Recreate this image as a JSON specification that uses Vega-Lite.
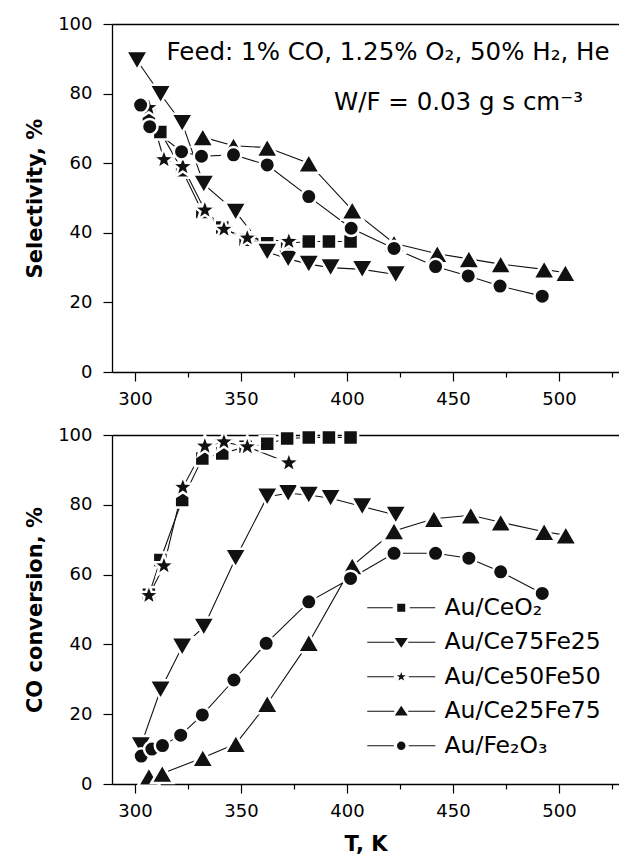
{
  "$schema": "https://vega.github.io/schema/vega-lite/v6.json",
  "padding": {"left": 24, "top": 15, "right": 0, "bottom": 0},
  "background": "white",
  "config": {
    "font": "DejaVu Sans",
    "view": {"stroke": null},
    "axis": {
      "grid": false,
      "labelFlush": false,
      "labelOverlap": false,
      "domainColor": "#000",
      "domainWidth": 1.3,
      "tickColor": "#000",
      "tickWidth": 1.2,
      "labelColor": "#000",
      "labelFont": "DejaVu Sans",
      "labelFontSize": 18,
      "titleFont": "DejaVu Sans",
      "titleFontSize": 21,
      "titleFontWeight": "bold",
      "titleColor": "#000"
    }
  },
  "datasets": {
    "sel": [
      {"catalyst": "Au/CeO₂", "T": 306.6, "value": 74},
      {"catalyst": "Au/CeO₂", "T": 312, "value": 69},
      {"catalyst": "Au/CeO₂", "T": 322.3, "value": 58},
      {"catalyst": "Au/CeO₂", "T": 331.8, "value": 46},
      {"catalyst": "Au/CeO₂", "T": 341.2, "value": 41.5},
      {"catalyst": "Au/CeO₂", "T": 352.2, "value": 38},
      {"catalyst": "Au/CeO₂", "T": 362.4, "value": 37},
      {"catalyst": "Au/CeO₂", "T": 371.8, "value": 37},
      {"catalyst": "Au/CeO₂", "T": 382, "value": 37.5},
      {"catalyst": "Au/CeO₂", "T": 391.5, "value": 37.5},
      {"catalyst": "Au/CeO₂", "T": 401.7, "value": 37.5},
      {"catalyst": "Au/Ce75Fe25", "T": 301, "value": 89.5},
      {"catalyst": "Au/Ce75Fe25", "T": 312.1, "value": 79.8},
      {"catalyst": "Au/Ce75Fe25", "T": 322.3, "value": 71.5},
      {"catalyst": "Au/Ce75Fe25", "T": 332.5, "value": 54},
      {"catalyst": "Au/Ce75Fe25", "T": 347.5, "value": 46},
      {"catalyst": "Au/Ce75Fe25", "T": 362.4, "value": 34.5},
      {"catalyst": "Au/Ce75Fe25", "T": 372.3, "value": 32.5},
      {"catalyst": "Au/Ce75Fe25", "T": 382, "value": 31},
      {"catalyst": "Au/Ce75Fe25", "T": 392.3, "value": 30},
      {"catalyst": "Au/Ce75Fe25", "T": 407.2, "value": 29.5},
      {"catalyst": "Au/Ce75Fe25", "T": 423, "value": 28},
      {"catalyst": "Au/Ce50Fe50", "T": 306.6, "value": 76},
      {"catalyst": "Au/Ce50Fe50", "T": 313.7, "value": 61},
      {"catalyst": "Au/Ce50Fe50", "T": 322.6, "value": 59},
      {"catalyst": "Au/Ce50Fe50", "T": 333, "value": 46.5},
      {"catalyst": "Au/Ce50Fe50", "T": 342, "value": 41},
      {"catalyst": "Au/Ce50Fe50", "T": 353, "value": 38.5},
      {"catalyst": "Au/Ce50Fe50", "T": 372.6, "value": 37.5},
      {"catalyst": "Au/Ce25Fe75", "T": 332, "value": 67.5},
      {"catalyst": "Au/Ce25Fe75", "T": 346.5, "value": 65},
      {"catalyst": "Au/Ce25Fe75", "T": 362.4, "value": 64.5},
      {"catalyst": "Au/Ce25Fe75", "T": 382, "value": 60},
      {"catalyst": "Au/Ce25Fe75", "T": 402.5, "value": 46.5},
      {"catalyst": "Au/Ce25Fe75", "T": 422.2, "value": 37},
      {"catalyst": "Au/Ce25Fe75", "T": 442.6, "value": 34},
      {"catalyst": "Au/Ce25Fe75", "T": 457.5, "value": 32.5},
      {"catalyst": "Au/Ce25Fe75", "T": 472.5, "value": 31},
      {"catalyst": "Au/Ce25Fe75", "T": 493, "value": 29.5},
      {"catalyst": "Au/Ce25Fe75", "T": 503, "value": 28.5},
      {"catalyst": "Au/Fe₂O₃", "T": 302.7, "value": 76.7},
      {"catalyst": "Au/Fe₂O₃", "T": 307, "value": 70.5},
      {"catalyst": "Au/Fe₂O₃", "T": 322, "value": 63.3},
      {"catalyst": "Au/Fe₂O₃", "T": 331.4, "value": 62},
      {"catalyst": "Au/Fe₂O₃", "T": 346.5, "value": 62.4},
      {"catalyst": "Au/Fe₂O₃", "T": 362.4, "value": 59.5},
      {"catalyst": "Au/Fe₂O₃", "T": 382, "value": 50.4},
      {"catalyst": "Au/Fe₂O₃", "T": 402, "value": 41.3},
      {"catalyst": "Au/Fe₂O₃", "T": 422.2, "value": 35.5},
      {"catalyst": "Au/Fe₂O₃", "T": 441.8, "value": 30.3},
      {"catalyst": "Au/Fe₂O₃", "T": 457.2, "value": 27.6},
      {"catalyst": "Au/Fe₂O₃", "T": 472.2, "value": 24.7},
      {"catalyst": "Au/Fe₂O₃", "T": 492.1, "value": 21.8}
    ],
    "conv": [
      {"catalyst": "Au/CeO₂", "T": 306.6, "value": 54.2},
      {"catalyst": "Au/CeO₂", "T": 312, "value": 64.2},
      {"catalyst": "Au/CeO₂", "T": 322.3, "value": 81.4},
      {"catalyst": "Au/CeO₂", "T": 331.8, "value": 93.3},
      {"catalyst": "Au/CeO₂", "T": 341.2, "value": 94.7},
      {"catalyst": "Au/CeO₂", "T": 352.2, "value": 96.6},
      {"catalyst": "Au/CeO₂", "T": 362.4, "value": 97.5},
      {"catalyst": "Au/CeO₂", "T": 371.8, "value": 99},
      {"catalyst": "Au/CeO₂", "T": 382, "value": 99.3},
      {"catalyst": "Au/CeO₂", "T": 391.5, "value": 99.3},
      {"catalyst": "Au/CeO₂", "T": 401.7, "value": 99.3},
      {"catalyst": "Au/Ce75Fe25", "T": 302.8, "value": 11},
      {"catalyst": "Au/Ce75Fe25", "T": 312.1, "value": 27},
      {"catalyst": "Au/Ce75Fe25", "T": 322.3, "value": 39.3},
      {"catalyst": "Au/Ce75Fe25", "T": 332.5, "value": 45},
      {"catalyst": "Au/Ce75Fe25", "T": 347.5, "value": 64.7},
      {"catalyst": "Au/Ce75Fe25", "T": 362.4, "value": 82.3},
      {"catalyst": "Au/Ce75Fe25", "T": 372.3, "value": 83.3},
      {"catalyst": "Au/Ce75Fe25", "T": 382, "value": 82.8},
      {"catalyst": "Au/Ce75Fe25", "T": 392.3, "value": 81.9},
      {"catalyst": "Au/Ce75Fe25", "T": 407.2, "value": 79.5},
      {"catalyst": "Au/Ce75Fe25", "T": 423, "value": 77.1},
      {"catalyst": "Au/Ce50Fe50", "T": 306.6, "value": 54},
      {"catalyst": "Au/Ce50Fe50", "T": 313.7, "value": 62.5},
      {"catalyst": "Au/Ce50Fe50", "T": 322.6, "value": 85},
      {"catalyst": "Au/Ce50Fe50", "T": 333, "value": 96.8},
      {"catalyst": "Au/Ce50Fe50", "T": 342, "value": 98},
      {"catalyst": "Au/Ce50Fe50", "T": 353, "value": 96.6},
      {"catalyst": "Au/Ce50Fe50", "T": 372.6, "value": 92},
      {"catalyst": "Au/Ce25Fe75", "T": 306.6, "value": 2.2},
      {"catalyst": "Au/Ce25Fe75", "T": 312.9, "value": 3},
      {"catalyst": "Au/Ce25Fe75", "T": 332, "value": 7.5},
      {"catalyst": "Au/Ce25Fe75", "T": 347.6, "value": 11.5},
      {"catalyst": "Au/Ce25Fe75", "T": 362.4, "value": 23},
      {"catalyst": "Au/Ce25Fe75", "T": 382, "value": 40.5},
      {"catalyst": "Au/Ce25Fe75", "T": 402.5, "value": 62.5},
      {"catalyst": "Au/Ce25Fe75", "T": 422.2, "value": 72.5},
      {"catalyst": "Au/Ce25Fe75", "T": 441, "value": 76},
      {"catalyst": "Au/Ce25Fe75", "T": 458.4, "value": 77},
      {"catalyst": "Au/Ce25Fe75", "T": 472.5, "value": 75},
      {"catalyst": "Au/Ce25Fe75", "T": 493, "value": 72.3},
      {"catalyst": "Au/Ce25Fe75", "T": 503.2, "value": 71.3},
      {"catalyst": "Au/Fe₂O₃", "T": 303, "value": 8},
      {"catalyst": "Au/Fe₂O₃", "T": 308, "value": 10},
      {"catalyst": "Au/Fe₂O₃", "T": 313, "value": 11},
      {"catalyst": "Au/Fe₂O₃", "T": 321.6, "value": 14},
      {"catalyst": "Au/Fe₂O₃", "T": 331.8, "value": 19.8},
      {"catalyst": "Au/Fe₂O₃", "T": 346.7, "value": 29.8},
      {"catalyst": "Au/Fe₂O₃", "T": 361.9, "value": 40.3},
      {"catalyst": "Au/Fe₂O₃", "T": 382, "value": 52.2},
      {"catalyst": "Au/Fe₂O₃", "T": 401.7, "value": 58.9},
      {"catalyst": "Au/Fe₂O₃", "T": 422.2, "value": 66.1},
      {"catalyst": "Au/Fe₂O₃", "T": 441.8, "value": 66.1},
      {"catalyst": "Au/Fe₂O₃", "T": 457.5, "value": 64.7},
      {"catalyst": "Au/Fe₂O₃", "T": 472.5, "value": 60.8},
      {"catalyst": "Au/Fe₂O₃", "T": 492.1, "value": 54.6}
    ]
  },
  "spacing": 63,
  "bounds": "flush",
  "resolve": {"scale": {"shape": "independent"}, "legend": {"shape": "independent"}},
  "vconcat": [
    {
      "width": 507,
      "height": 348,
      "resolve": {"axis": {"x": "independent"}},
      "layer": [
        {
          "data": {"name": "sel"},
          "mark": {"type": "line", "color": "#111", "strokeWidth": 1.1},
          "encoding": {
            "x": {"field": "T", "type": "quantitative", "scale": {"domain": [289.2, 528.3], "nice": false, "zero": false},
              "axis": {"title": null, "values": [300, 325, 350, 375, 400, 425, 450, 475, 500, 525], "labelExpr": "datum.value % 50 === 0 ? datum.label : ''", "tickSize": {"condition": {"test": "datum.value % 50 === 0", "value": 9}, "value": 5}, "labelPadding": 9}},
            "y": {"field": "value", "type": "quantitative", "scale": {"domain": [0, 100], "nice": false},
              "axis": {"title": "Selectivity, %", "values": [0, 10, 20, 30, 40, 50, 60, 70, 80, 90, 100], "labelExpr": "datum.value % 20 === 0 ? datum.label : ''", "tickSize": {"condition": {"test": "datum.value % 20 === 0", "value": 9}, "value": 5}, "labelPadding": 11, "titlePadding": 12}},
            "detail": {"field": "catalyst"}
          }
        },
        {
          "data": {"name": "sel"},
          "mark": {"type": "point", "filled": true, "fill": "#111", "stroke": "white", "strokeWidth": 2.5, "opacity": 1, "size": 100},
          "encoding": {
            "x": {"field": "T", "type": "quantitative", "axis": null},
            "y": {"field": "value", "type": "quantitative", "axis": {"title": "Selectivity, %"}},
            "shape": {"field": "catalyst", "type": "nominal", "legend": null,
              "scale": {"domain": ["Au/CeO₂", "Au/Ce75Fe25", "Au/Ce50Fe50", "Au/Ce25Fe75", "Au/Fe₂O₃"],
                "range": ["M-1.5,-1.5H1.5V1.5H-1.5Z", "M-2.2,-1.9L2.2,-1.9L0,1.9Z", "M0,-2.3L0.558,-0.769L2.187,-0.711L0.904,0.294L1.352,1.861L0,0.95L-1.352,1.861L-0.904,0.294L-2.187,-0.711L-0.558,-0.769Z", "M-2.2,1.9L2.2,1.9L0,-1.9Z", "M-1.55,0A1.55,1.55 0 1,0 1.55,0A1.55,1.55 0 1,0 -1.55,0Z"]}}
          }
        },
        {
          "data": {"values": [{}]},
          "mark": {"type": "text", "text": "Feed: 1% CO, 1.25% O₂, 50% H₂, He", "font": "DejaVu Sans", "fontSize": 24.5, "align": "center", "baseline": "alphabetic", "color": "#000"},
          "encoding": {"x": {"datum": 419.4, "type": "quantitative", "axis": null}, "y": {"datum": 89.7, "type": "quantitative", "axis": {"title": "Selectivity, %"}}}
        },
        {
          "data": {"values": [{}]},
          "mark": {"type": "text", "text": "W/F = 0.03 g s cm⁻³", "font": "DejaVu Sans", "fontSize": 24.5, "align": "center", "baseline": "alphabetic", "color": "#000"},
          "encoding": {"x": {"datum": 452.6, "type": "quantitative", "axis": null}, "y": {"datum": 75.3, "type": "quantitative", "axis": {"title": "Selectivity, %"}}}
        },
        {
          "data": {"values": [{}]},
          "mark": {"type": "rule", "opacity": 0},
          "encoding": {"x": {"datum": 400, "type": "quantitative", "axis": {"orient": "top", "labels": false, "ticks": false, "title": null, "domain": true}}}
        }
      ]
    },
    {
      "width": 507,
      "height": 349,
      "resolve": {"axis": {"x": "independent"}, "scale": {"shape": "independent"}, "legend": {"shape": "independent"}},
      "layer": [
        {
          "data": {"name": "conv"},
          "mark": {"type": "line", "color": "#111", "strokeWidth": 1.1},
          "encoding": {
            "x": {"field": "T", "type": "quantitative", "scale": {"domain": [289.2, 528.3], "nice": false, "zero": false},
              "axis": {"title": "T, K", "values": [300, 325, 350, 375, 400, 425, 450, 475, 500, 525], "labelExpr": "datum.value % 50 === 0 ? datum.label : ''", "tickSize": {"condition": {"test": "datum.value % 50 === 0", "value": 9}, "value": 5}, "labelPadding": 9, "titlePadding": 13}},
            "y": {"field": "value", "type": "quantitative", "scale": {"domain": [0, 100], "nice": false},
              "axis": {"title": "CO conversion, %", "values": [0, 10, 20, 30, 40, 50, 60, 70, 80, 90, 100], "labelExpr": "datum.value % 20 === 0 ? datum.label : ''", "tickSize": {"condition": {"test": "datum.value % 20 === 0", "value": 9}, "value": 5}, "labelPadding": 11, "titlePadding": 12}},
            "detail": {"field": "catalyst"}
          }
        },
        {
          "data": {"name": "conv"},
          "mark": {"type": "point", "filled": true, "fill": "#111", "stroke": "white", "strokeWidth": 2.5, "opacity": 1, "size": 100},
          "encoding": {
            "x": {"field": "T", "type": "quantitative", "axis": null},
            "y": {"field": "value", "type": "quantitative", "axis": {"title": "CO conversion, %"}},
            "shape": {"field": "catalyst", "type": "nominal", "legend": null,
              "scale": {"domain": ["Au/CeO₂", "Au/Ce75Fe25", "Au/Ce50Fe50", "Au/Ce25Fe75", "Au/Fe₂O₃"],
                "range": ["M-1.5,-1.5H1.5V1.5H-1.5Z", "M-2.2,-1.9L2.2,-1.9L0,1.9Z", "M0,-2.3L0.558,-0.769L2.187,-0.711L0.904,0.294L1.352,1.861L0,0.95L-1.352,1.861L-0.904,0.294L-2.187,-0.711L-0.558,-0.769Z", "M-2.2,1.9L2.2,1.9L0,-1.9Z", "M-1.55,0A1.55,1.55 0 1,0 1.55,0A1.55,1.55 0 1,0 -1.55,0Z"]}}
          }
        },
        {
          "data": {"values": []},
          "mark": {"type": "point", "filled": true, "fill": "#111", "strokeWidth": 0, "opacity": 1, "size": 100},
          "encoding": {
            "shape": {"field": "catalyst", "type": "nominal",
              "scale": {"domain": ["Au/CeO₂", "Au/Ce75Fe25", "Au/Ce50Fe50", "Au/Ce25Fe75", "Au/Fe₂O₃"],
                "range": [
                  "M-6.8,-0.11H-1.7V0.11H-6.8ZM-0.8,-0.8H0.8V0.8H-0.8ZM1.7,-0.11H6.8V0.11H1.7Z",
                  "M-6.8,-0.11H-1.4V0.11H-6.8ZM-1.3,-0.85H1.3L0,1.1ZM1.4,-0.11H6.8V0.11H1.4Z",
                  "M-6.8,-0.11H-1.5V0.11H-6.8ZM0,-0.95L0.223,-0.308L0.903,-0.294L0.361,0.118L0.559,0.769L0,0.38L-0.559,0.769L-0.361,0.118L-0.903,-0.294L-0.223,-0.308ZM1.5,-0.11H6.8V0.11H1.5Z",
                  "M-6.8,-0.11H-1.4V0.11H-6.8ZM-1.3,0.85H1.3L0,-1.1ZM1.4,-0.11H6.8V0.11H1.4Z",
                  "M-6.8,-0.11H-1.5V0.11H-6.8ZM-0.85,0A0.85,0.85 0 1,0 0.85,0A0.85,0.85 0 1,0 -0.85,0ZM1.5,-0.11H6.8V0.11H1.5Z"
                ]},
              "legend": {
                "title": null, "orient": "none", "legendX": 277.5, "legendY": 161, "padding": 0,
                "labelFont": "DejaVu Sans", "labelFontSize": 23.5, "labelColor": "#000", "labelOffset": 31.5,
                "rowPadding": 9.5, "symbolSize": 100, "symbolFillColor": "#111", "symbolStrokeWidth": 0, "symbolOpacity": 1
              }}
          }
        },
        {
          "data": {"values": [{}]},
          "mark": {"type": "rule", "opacity": 0},
          "encoding": {"x": {"datum": 400, "type": "quantitative", "axis": {"orient": "top", "labels": false, "ticks": false, "title": null, "domain": true}}}
        }
      ]
    }
  ]
}
